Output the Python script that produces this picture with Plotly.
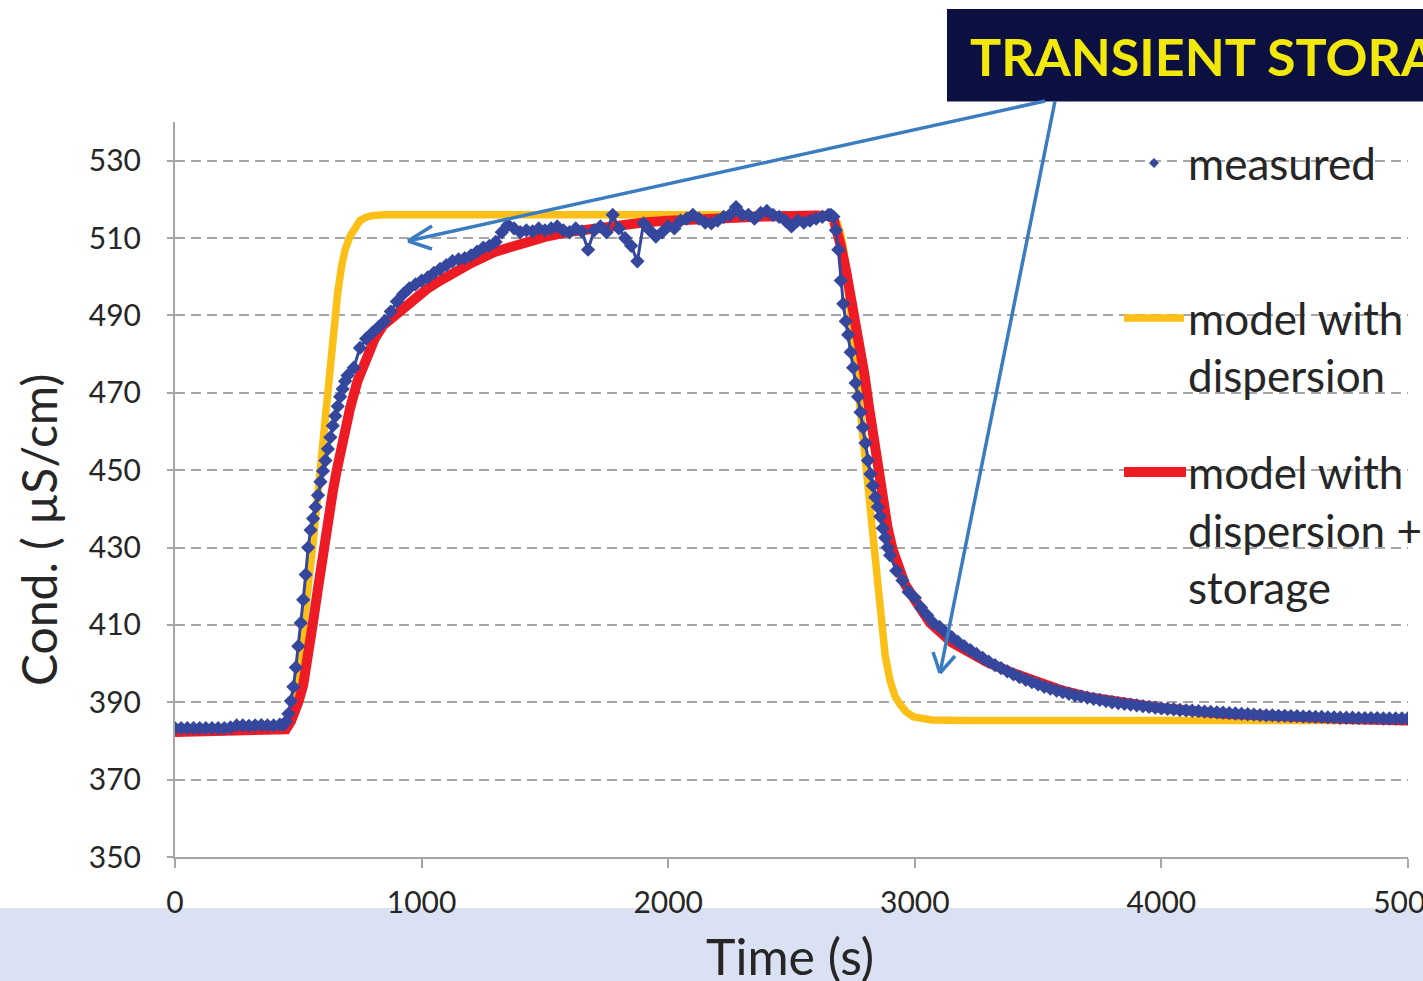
import plotly.graph_objects as go

# ---------------- data ----------------
# measured conductivity (uS/cm) vs time (s), in segments
meas_t_a = list(range(0, 426, 25))
meas_v_a = [383.3, 383.3, 383.3, 383.3, 383.3, 383.3, 383.3, 383.3, 383.3,
            383.5, 384.0, 384.0, 383.9, 384.0, 384.1, 384.0, 384.0, 384.2]

meas_t_b = list(range(440, 701, 10))
meas_v_b = [384.2, 385.0, 387.0, 390.3, 394.0, 399.0, 404.5, 410.5, 416.5,
            423.0, 430.0, 434.5, 437.5, 440.5, 443.5, 447.0, 449.8, 452.5,
            455.5, 458.5, 461.5, 464.0, 466.5, 469.0, 471.0, 473.0, 474.5]

meas_t_c = list(range(725, 2626, 25))
meas_v_c = [476.5, 481.6, 484.0, 485.5, 487.0, 488.5, 491.0, 493.6, 495.5, 497.0, 498.0,
            499.0, 499.8, 501.0, 502.0, 503.0, 504.0, 504.5, 504.8, 505.5, 506.5, 507.5,
            508.0, 509.0, 511.5, 513.4, 512.5, 511.5, 512.0, 511.7, 512.5, 512.0, 512.5,
            513.0, 512.0, 511.5, 512.5, 511.7, 507.0, 512.0, 513.0, 511.5, 516.0, 512.5,
            510.0, 508.0, 504.0, 513.8, 512.0, 510.4, 511.5, 513.0, 512.5, 514.5, 515.0,
            516.0, 515.0, 514.0, 513.8, 514.5, 515.5, 516.0, 518.0, 516.0, 516.0, 515.0,
            516.5, 517.0, 516.0, 515.5, 514.5, 513.0, 514.5, 514.0, 514.5, 515.0, 515.5]

meas_t_d = list(range(2650, 2901, 10))
meas_v_d = [516.0, 516.0, 515.5, 512.0, 507.0, 499.0, 493.0, 488.5, 485.0, 480.5,
            476.5, 472.5, 469.0, 465.0, 461.0, 457.0, 452.5, 449.0, 446.0, 443.0,
            440.5, 438.0, 435.0, 432.5, 430.0, 428.0]

meas_t_e = list(range(2925, 5001, 25))
meas_v_e = [424.0, 421.5, 418.5, 417.0, 414.5, 412.5, 410.5, 409.5, 408.0, 406.8, 405.6, 404.5,
            403.5, 402.5, 401.5, 400.5, 399.6, 398.8, 398.0, 397.2, 396.5, 395.8, 395.2, 394.6,
            394.0, 393.5, 393.0, 392.6, 392.2, 391.8, 391.5, 391.2, 390.9, 390.6, 390.3, 390.0,
            389.8, 389.6, 389.4, 389.2, 389.0, 388.8, 388.6, 388.4, 388.3, 388.2, 388.0, 387.9,
            387.8, 387.7, 387.6, 387.5, 387.4, 387.3, 387.2, 387.1, 387.0, 386.9, 386.8, 386.7,
            386.6, 386.6, 386.5, 386.5, 386.4, 386.4, 386.3, 386.3, 386.2, 386.2, 386.1, 386.1,
            386.0, 386.0, 386.0, 385.9, 385.9, 385.9, 385.9, 385.8, 385.8, 385.8, 385.8, 385.8]

meas_t = meas_t_a + meas_t_b + meas_t_c + meas_t_d + meas_t_e
meas_v = meas_v_a + meas_v_b + meas_v_c + meas_v_d + meas_v_e

# model with dispersion
disp_t = [0, 440, 460, 470, 480, 490, 500, 510, 520,
          540, 560, 574, 588, 603, 619, 634, 649,
          660, 675, 690, 710, 730, 750, 775, 800, 850,
          2650, 2670, 2685, 2700, 2715, 2732, 2748, 2765, 2782,
          2798, 2815, 2831, 2847, 2863, 2880, 2900, 2920, 2940,
          2965, 2995, 3030, 3070, 3200, 5000]
disp_v = [383.5, 383.5, 384.5, 386, 388.5, 392.5, 397.5, 403.5, 410,
          420.5, 431, 440.5, 450, 460, 470, 480, 490,
          496, 502.5, 507, 510.5, 513, 514.5, 515.4, 515.8, 516,
          516, 515.5, 514, 511, 505.5, 495, 485, 472, 460,
          450, 440, 430, 420, 410, 402, 395.5, 391.5, 389.5,
          387.5, 386.2, 385.6, 385.4, 385.3, 385.3]

# model with dispersion + storage
stor_t = [0, 430, 450, 470, 490, 500, 520, 540, 558, 580,
          601, 620, 640, 656, 680, 710, 740, 777, 810, 845,
          890, 926, 970, 1021, 1070, 1115, 1200, 1300, 1400, 1500,
          1600, 1700, 1800, 1900, 2000, 2200, 2400, 2600, 2650, 2670,
          2685, 2700, 2720, 2740, 2757, 2775, 2795, 2815, 2835, 2852,
          2870, 2890, 2910, 2930, 2960, 3000, 3062, 3150, 3290,
          3400, 3500, 3600, 3700, 3830, 4000, 4250, 4500, 4750, 5000]
stor_v = [382.3, 382.4, 383, 385, 388, 390, 394.5, 401, 410, 419.5,
          430, 437.5, 444.5, 450, 457.5, 466, 473, 479.5, 484, 487.5,
          490, 492, 494.5, 496.8, 498.8, 500.5, 503.5, 506.5, 508.7, 510.3,
          511.6, 512.6, 513.4, 514, 514.5, 515.2, 515.6, 515.8, 515.7, 515,
          512, 508, 502, 495, 490, 483, 475, 466, 457, 450,
          442, 435, 429.5, 425, 420.5, 416.5, 410.5, 405.5, 400.5,
          397.5, 395, 393, 391.4, 389.9, 388.5, 387, 386.2, 385.7, 385.3]

x_ticks = [0, 1000, 2000, 3000, 4000, 5000]
y_ticks = [350, 370, 390, 410, 430, 450, 470, 490, 510, 530]

legend_labels = ["measured", ["model with", "dispersion"], ["model with", "dispersion +", "storage"]]

# ---------------- styling ----------------
W, H = 1423, 981
L, R, T, B = 175, 1408, 122, 857
FONT = "Lato"
TXT = "#262626"
YEL = "#fcbf17"
RED = "#ed1c24"
BLU = "#34479d"
ARR = "#3b7cc1"
GRID = "#a6a6a6"


def PX(px):
    return (px - L) / (R - L)


def PY(py):
    return (B - py) / (B - T)


fig = go.Figure()
fig.add_trace(go.Scatter(x=disp_t, y=disp_v, mode="lines",
                         line=dict(color=YEL, width=7.5), name="model with dispersion",
                         showlegend=False))
fig.add_trace(go.Scatter(x=stor_t, y=stor_v, mode="lines",
                         line=dict(color=RED, width=10), name="model with dispersion + storage",
                         showlegend=False))
fig.add_trace(go.Scatter(x=meas_t, y=meas_v, mode="lines+markers",
                         line=dict(color=BLU, width=3),
                         marker=dict(symbol="diamond", size=11, color=BLU, line=dict(width=0)),
                         name="measured", showlegend=False))

shapes = []
# bottom light-blue strip
shapes.append(dict(type="rect", xref="paper", yref="paper", x0=PX(0), x1=PX(W),
                   y0=PY(H), y1=PY(908), fillcolor="#d9e1f2", line=dict(width=0), layer="below"))
# navy title box
shapes.append(dict(type="rect", xref="paper", yref="paper", x0=PX(947), x1=PX(W + 10),
                   y0=PY(101.5), y1=PY(9), fillcolor="#0b1040", line=dict(width=0), layer="above"))


def seg(p0, p1, color, width):
    return dict(type="line", xref="paper", yref="paper",
                x0=PX(p0[0]), y0=PY(p0[1]), x1=PX(p1[0]), y1=PY(p1[1]),
                line=dict(color=color, width=width), layer="above")


# arrows
shapes.append(seg((1045, 101), (408, 241), ARR, 3.5))
shapes.append(seg((408, 241), (432, 226), ARR, 3.5))
shapes.append(seg((408, 241), (432, 249), ARR, 3.5))
shapes.append(seg((1055, 101), (940, 673), ARR, 3.5))
shapes.append(seg((940, 673), (933, 652), ARR, 3.5))
shapes.append(seg((940, 673), (955, 656), ARR, 3.5))

# legend symbols
cx, cy, d = 1154, 163, 5
shapes.append(dict(type="path", xref="paper", yref="paper",
                   path=f"M {PX(cx)},{PY(cy-d)} L {PX(cx+d)},{PY(cy)} L {PX(cx)},{PY(cy+d)} L {PX(cx-d)},{PY(cy)} Z",
                   fillcolor=BLU, line=dict(width=0), layer="above"))
shapes.append(seg((1124, 318), (1184, 318), YEL, 7.5))
shapes.append(seg((1124, 472), (1186, 472), RED, 10))

ann = []


def text(s, px, py, size, anchor="left", **kw):
    ann.append(dict(text=s, x=PX(px), y=PY(py), xref="paper", yref="paper",
                    xanchor=anchor, yanchor="middle", showarrow=False,
                    font=dict(family=FONT, size=size, color=kw.pop("color", TXT)), **kw))


text(legend_labels[0], 1186, 163, 44)
text(legend_labels[1][0], 1186, 318, 44)
text(legend_labels[1][1], 1186, 375, 44)
text(legend_labels[2][0], 1186, 472, 44)
text(legend_labels[2][1], 1186, 530, 44)
text(legend_labels[2][2], 1186, 587, 44)
text("Cond. ( µS/cm)", 38, 530, 48, anchor="center", textangle=-90)
text("Time (s)", 790, 956, 50, anchor="center")
text("<b>TRANSIENT STORAGE</b>", 968, 56, 52, color="#f2e80c")

fig.update_layout(
    width=W, height=H, autosize=False,
    margin=dict(l=L, r=W - R, t=T, b=H - B, pad=0, autoexpand=False),
    paper_bgcolor="white", plot_bgcolor="white",
    showlegend=False,
    shapes=shapes, annotations=ann,
    xaxis=dict(range=[0, 5000], tickvals=x_ticks, ticktext=[str(v) for v in x_ticks],
               showgrid=False, zeroline=False, showline=True, linecolor=GRID, linewidth=2,
               ticks="outside", ticklen=9, tickwidth=2, tickcolor=GRID, automargin=False,
               tickfont=dict(family=FONT, size=30, color=TXT), ticklabelstandoff=9,
               ticklabeloverflow="allow"),
    yaxis=dict(range=[350, 540], tickvals=y_ticks, ticktext=[str(v) for v in y_ticks],
               showgrid=True, gridcolor=GRID, gridwidth=2, griddash="10px,6px",
               zeroline=False, showline=True, linecolor=GRID, linewidth=2, automargin=False,
               ticks="outside", ticklen=6, tickwidth=2, tickcolor=GRID,
               tickfont=dict(family=FONT, size=30, color=TXT), ticklabelstandoff=20),
)

fig.write_html("out.html")
